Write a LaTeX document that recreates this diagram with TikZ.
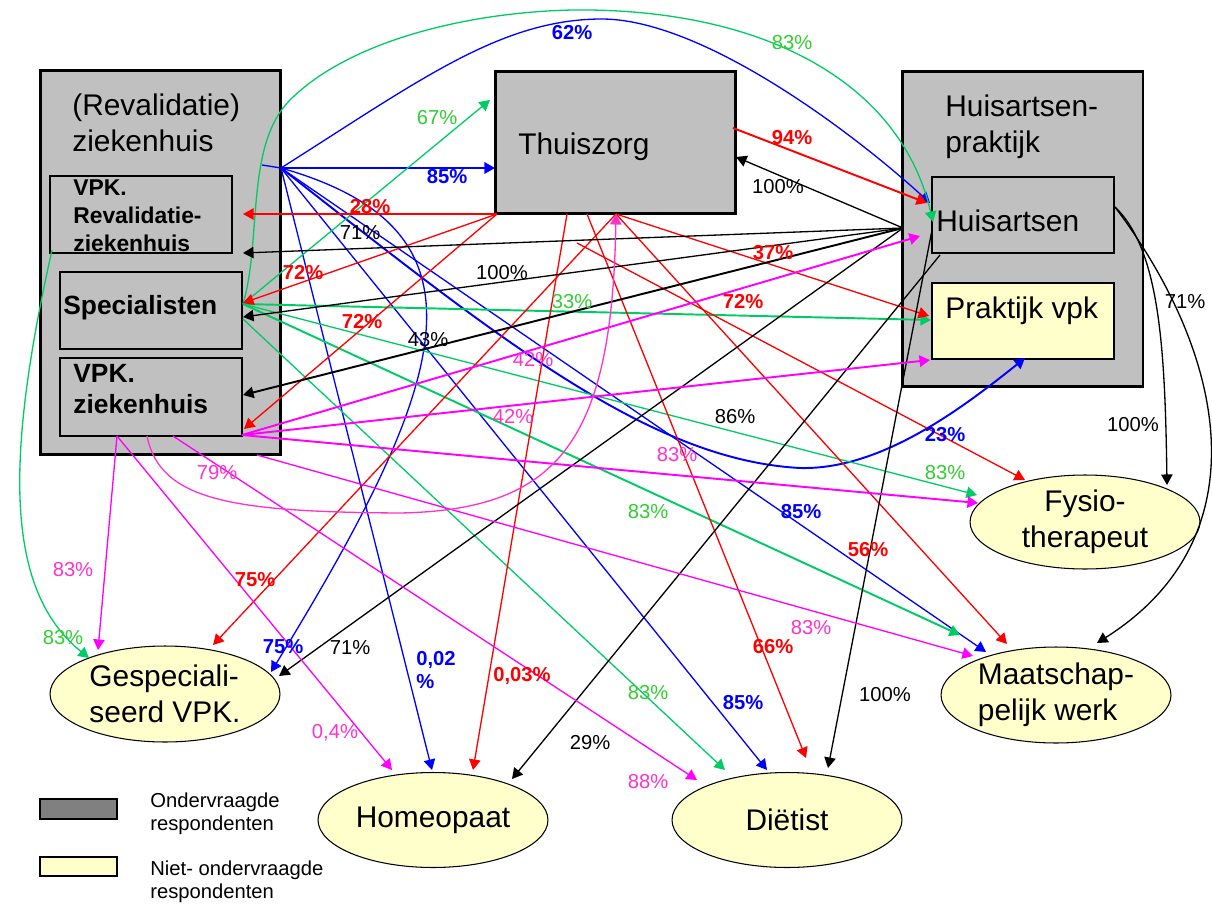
\documentclass[tikz,border=0pt]{standalone}
\usepackage{fontspec}
\setmainfont{Liberation Sans}
\usetikzlibrary{arrows.meta,shapes.geometric}

\definecolor{boxgray}{HTML}{C0C0C0}
\definecolor{paleyellow}{HTML}{FFFFCC}
\definecolor{legendgray}{HTML}{808080}
\definecolor{linegreen}{HTML}{00CC66}
\definecolor{lblgreen}{HTML}{33CC33}
\definecolor{linepink}{HTML}{FF00FF}
\definecolor{lblpink}{HTML}{FF33CC}

\newcommand{\namefont}{\fontsize{17}{20.5}\selectfont}
\newcommand{\unitfont}{\fontsize{13}{16}\selectfont\bfseries}
\newcommand{\wardfont}{\fontsize{15}{17.6}\selectfont\bfseries}
\newcommand{\pctfont}{\fontsize{11.5}{13.5}\selectfont}
\newcommand{\legfont}{\fontsize{11.5}{13}\selectfont}

\tikzset{
  outerbox/.style={draw, line width=1.7pt, fill=boxgray, inner sep=0pt, minimum width=4.82cm},
  innerbox/.style={draw, line width=1.2pt, inner sep=0pt, minimum width=3.64cm, minimum height=1.54cm},
  oval/.style={ellipse, draw, line width=0.6pt, fill=paleyellow, inner sep=0pt,
    minimum width=4.6cm, minimum height=1.92cm, align=center, font=\namefont},
  boxtext/.style={anchor=base west, inner sep=0pt, align=left, font=\namefont},
  legbox/.style={draw, line width=0.6pt, inner sep=0pt, minimum width=1.54cm, minimum height=0.4cm},
  arr/.style={-{Triangle[length=6pt,width=6.5pt]}, line width=0.75pt},
  heavy/.style={line width=1.1pt},
  pct/.style={inner sep=0pt, font=\pctfont},
  pctB/.style={pct, blue, font=\pctfont\bfseries},
  pctR/.style={pct, red, font=\pctfont\bfseries},
  pctG/.style={pct, lblgreen},
  pctP/.style={pct, lblpink},
}

\begin{document}
\begin{tikzpicture}[x=0.02cm, y=-0.02cm]
\useasboundingbox (0,0) rectangle (1212,905);

% (Revalidatie) ziekenhuis
\node[outerbox, minimum height=7.7cm] (zh) at (160.5,262.5) {};
\node[innerbox] (reval) at (141,214.5) {};
\node[innerbox] (spec) at (151,310.5) {};
\node[innerbox, minimum height=1.56cm] (vpkzh) at (151,397) {};
% base of a multi-line node = baseline of its last line
\node[boxtext] (zhname) at (72,152) {(Revalidatie)\\ziekenhuis};
\node[boxtext, font=\unitfont] (revalname) at (73,252) {VPK.\\Revalidatie-\\ziekenhuis};
\node[boxtext, font=\wardfont] (specname) at (63,314) {Specialisten};
\node[boxtext, font=\wardfont] (vpkzhname) at (73,413) {VPK.\\ziekenhuis};

% Thuiszorg
\node[outerbox, minimum height=2.86cm] (thuis) at (615.5,142.5) {};
\node[boxtext] (thuisname) at (518,155) {Thuiszorg};

% Huisartsenpraktijk
\node[outerbox, minimum height=6.32cm] (hapr) at (1022.5,229) {};
\node[innerbox, minimum height=1.52cm] (huis) at (1023,215) {};
\node[innerbox, minimum height=1.52cm, fill=paleyellow] (pvpk) at (1023,321) {};
\node[boxtext] (haprname) at (945,153) {Huisartsen-\\praktijk};
\node[boxtext] (huisname) at (936,232) {Huisartsen};
\node[boxtext] (pvpkname) at (945,318) {Praktijk vpk};

% Niet-ondervraagde respondenten
\node[oval, minimum height=1.88cm] (fysio) at (1085,522) {Fysio-\\therapeut};
\node[oval, align=left] (maat) at (1056,695) {Maatschap-\\pelijk werk};
\node[oval, align=left] (gesp) at (165,694) {Gespeciali-\\seerd VPK.};
\node[oval, minimum height=1.9cm] (homeo) at (433,820) {Homeopaat};
\node[oval, minimum height=1.9cm] (diet) at (787,820) {Diëtist};

% Legenda
\node[legbox, fill=legendgray] (legasked) at (78.5,809) {};
\node[legbox, fill=paleyellow, minimum height=0.38cm] (legnot) at (78.5,866.5) {};
\node[anchor=base west, inner sep=0pt, align=left, font=\legfont] (legaskedtxt) at (150,830) {Ondervraagde\\respondenten};
\node[anchor=base west, inner sep=0pt, align=left, font=\legfont] (legnottxt) at (150,898) {Niet- ondervraagde\\respondenten};

% vertrekpunten
\coordinate (zhstub) at (262,165);
\coordinate (zhout) at (281,168);
\coordinate (specout) at (243,304);
\coordinate (speclow) at (243,319);
\coordinate (revalout) at (52,250);
\coordinate (vpkzhout) at (242,435);
\coordinate (vpkzhb1) at (117,436);
\coordinate (vpkzhb2) at (147,436);
\coordinate (vpkzhb3) at (173,436);
\coordinate (zhbot) at (257,455);
\coordinate (thsw) at (497,214);
\coordinate (thb1) at (567,214);
\coordinate (thb2) at (587,214);
\coordinate (thb3) at (616,214);
\coordinate (thfree) at (577,243);
\coordinate (theast) at (733,128);
\coordinate (huisw) at (903,228);
\coordinate (huiswb) at (932,230);
\coordinate (huisbl) at (940,255);
\coordinate (huise) at (1115,207);

% pijlpunten
\coordinate (thB) at (495,168);
\coordinate (thG) at (490,100);
\coordinate (thK) at (736,157);
\coordinate (huB) at (930,203);
\coordinate (huR) at (927,203);
\coordinate (huG) at (933,222);
\coordinate (huP) at (920,236);
\coordinate (pvR) at (929,316);
\coordinate (pvG) at (931,320);
\coordinate (pvP) at (930,360);
\coordinate (pvB) at (1025,358);
\coordinate (rvR) at (243,214);
\coordinate (rvK) at (243,253);
\coordinate (spR) at (243,303);
\coordinate (spK) at (243,317);
\coordinate (vzK) at (243,395);
\coordinate (vzR) at (244,429);
\coordinate (fyR) at (1025,480);
\coordinate (fyG) at (977,495);
\coordinate (fyP) at (978,503);
\coordinate (fyK) at (1167,485);
\coordinate (maG) at (960,635);
\coordinate (maP) at (973,656);
\coordinate (maB) at (986,652);
\coordinate (maR) at (1007,644);
\coordinate (maK) at (1097,643);
\coordinate (geG) at (89,658);
\coordinate (geP) at (98,650);
\coordinate (geR) at (213,645);
\coordinate (geB) at (271,672);
\coordinate (geK) at (279,676);
\coordinate (hoP) at (392,770);
\coordinate (hoB) at (432,770);
\coordinate (hoR) at (473,770);
\coordinate (hoK) at (512,779);
\coordinate (diP) at (697,780);
\coordinate (diG) at (725,770);
\coordinate (diB) at (767,770);
\coordinate (diR) at (806,758);
\coordinate (diK) at (828,768);

% blauw
\draw[blue, line width=0.75pt] (zhstub) -- (zhout);
\draw[arr, blue] (zhout) .. controls (420,80) and (500,20) .. (600,19) .. controls (700,18) and (850,130) .. (huB);
\draw[arr, blue, heavy] (zhout) -- (thB);
\draw[arr, blue, heavy] (zhout) .. controls (500,340) and (650,460) .. (800,468) .. controls (880,470) and (960,410) .. (pvB);
\draw[arr, blue] (zhout) -- (maB);
\draw[arr, blue] (zhout) .. controls (500,230) and (450,380) .. (geB);
\draw[arr, blue] (zhout) -- (hoB);
\draw[arr, blue] (zhout) -- (diB);

% groen
\draw[arr, linegreen] (specout) .. controls (262,240) and (245,145) .. (290,100)
  .. controls (350,40) and (470,12) .. (573,10) .. controls (760,8) and (900,80) .. (huG);
\draw[arr, linegreen] (specout) -- (thG);
\draw[arr, linegreen, heavy] (specout) -- (pvG);
\draw[arr, linegreen] (specout) -- (fyG);
\draw[arr, linegreen, heavy] (specout) -- (maG);
\draw[arr, linegreen] (speclow) -- (diG);
\draw[arr, linegreen] (revalout) .. controls (5,460) and (5,590) .. (geG);

% rood
\draw[arr, red] (thsw) -- (rvR);
\draw[arr, red] (thsw) -- (spR);
\draw[arr, red] (thsw) -- (vzR);
\draw[arr, red] (thb3) -- (geR);
\draw[arr, red] (thb1) -- (hoR);
\draw[arr, red] (thb2) -- (diR);
\draw[arr, red] (thb3) -- (maR);
\draw[arr, red] (thb3) -- (pvR);
\draw[arr, red] (thfree) -- (fyR);
\draw[arr, red, heavy] (theast) -- (huR);

% zwart
\draw[arr] (huisw) -- (thK);
\draw[arr] (huisw) -- (rvK);
\draw[arr] (huisw) -- (spK);
\draw[arr, heavy] (huisw) -- (vzK);
\draw[arr] (huisw) -- (geK);
\draw[arr] (huisbl) -- (hoK);
\draw[arr] (huiswb) -- (diK);
\draw[arr] (huise) .. controls (1160,250) and (1165,350) .. (fyK);
\draw[arr] (huise) .. controls (1230,360) and (1260,540) .. (maK);

% roze
\draw[arr, linepink, heavy] (vpkzhout) -- (huP);
\draw[arr, linepink, heavy] (vpkzhout) -- (pvP);
\draw[arr, linepink, heavy] (vpkzhout) -- (fyP);
\draw[arr, linepink] (zhbot) -- (maP);
\draw[arr, linepink] (vpkzhb1) -- (geP);
\draw[arr, linepink] (vpkzhb1) -- (hoP);
\draw[arr, linepink] (vpkzhb3) -- (diP);
\draw[arr, lblpink] (vpkzhb2) .. controls (160,500) and (230,512) .. (400,513)
  .. controls (560,510) and (612,440) .. (thb3);

% percentages
\node[pctB] (p62) at (572,33) {62\%};
\node[pctB] (p85a) at (447,177) {85\%};
\node[pctB] (p23) at (945,435) {23\%};
\node[pctB] (p85b) at (801,512) {85\%};
\node[pctB] (p75b) at (283,647) {75\%};
\node[pctB] (p85c) at (743,703) {85\%};
\node[pctB, align=left] (p002) at (436,670) {0,02\\\%};

\node[pctR] (p94) at (792,138) {94\%};
\node[pctR] (p28) at (370,207) {28\%};
\node[pctR] (p72a) at (303,273) {72\%};
\node[pctR] (p72b) at (362,322) {72\%};
\node[pctR] (p37) at (773,253) {37\%};
\node[pctR] (p72c) at (743,302) {72\%};
\node[pctR] (p56) at (868,550) {56\%};
\node[pctR] (p75a) at (255,580) {75\%};
\node[pctR] (p66) at (773,647) {66\%};
\node[pctR] (p003) at (522,676) {0,03\%};

\node[pctG] (p67) at (437,118) {67\%};
\node[pctG] (p83a) at (792,43) {83\%};
\node[pctG] (p33) at (572,302) {33\%};
\node[pctG] (p83b) at (945,473) {83\%};
\node[pctG] (p83c) at (648,512) {83\%};
\node[pctG] (p83d) at (63,638) {83\%};
\node[pctG] (p83e) at (648,693) {83\%};

\node[pctP] (p42a) at (533,360) {42\%};
\node[pctP] (p42b) at (513,417) {42\%};
\node[pctP] (p83f) at (677,455) {83\%};
\node[pctP] (p79) at (217,473) {79\%};
\node[pctP] (p83g) at (73,570) {83\%};
\node[pctP] (p83h) at (811,628) {83\%};
\node[pctP] (p04) at (335,733) {0,4\%};
\node[pctP] (p88) at (648,782) {88\%};

\node[pct] (p100a) at (778,187) {100\%};
\node[pct] (p71a) at (360,233) {71\%};
\node[pct] (p100b) at (502,273) {100\%};
\node[pct] (p43) at (428,340) {43\%};
\node[pct] (p86) at (735,417) {86\%};
\node[pct] (p71b) at (350,648) {71\%};
\node[pct] (p100c) at (885,695) {100\%};
\node[pct] (p71c) at (1185,302) {71\%};
\node[pct] (p100d) at (1133,425) {100\%};
\node[pct] (p29) at (590,743) {29\%};
\end{tikzpicture}
\end{document}
